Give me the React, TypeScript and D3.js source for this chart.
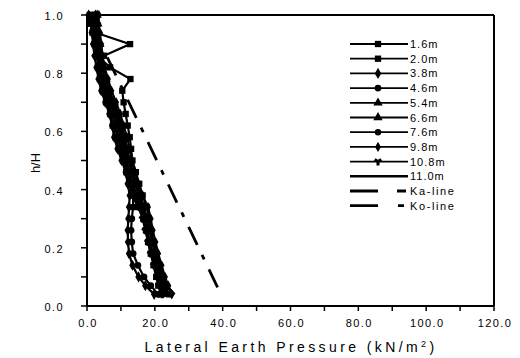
import React from "react";
import * as d3 from "d3";

const hLevels = [1.0, 0.97, 0.94, 0.9, 0.86, 0.82, 0.78, 0.74, 0.7, 0.66, 0.62, 0.58, 0.54, 0.5, 0.46, 0.42, 0.38, 0.34, 0.3, 0.26, 0.22, 0.18, 0.14, 0.1, 0.07, 0.04];

const seriesNames = ["1.6m", "2.0m", "3.8m", "4.6m", "5.4m", "6.6m", "7.6m", "9.8m", "10.8m", "11.0m"];

const s16 = [0.8, 1.5, 2.4, 12.7, 5.0, 3.2, 3.8, 4.6, 5.6, 6.8, 7.6, 8.4, 9.4, 10.6, 11.6, 12.4, 13.4, 15.0, 16.6, 17.4, 18.0, 18.8, 19.6, 20.4, 21.0, 21.8];
const s20 = [1.2, 1.0, 1.6, 2.2, 3.0, 6.8, 12.8, 10.4, 10.8, 11.4, 12.0, 12.6, 13.0, 13.4, 14.4, 15.4, 16.4, 17.6, 18.2, 18.8, 19.6, 20.4, 21.2, 22.2, 23.0, 24.2];
const s38 = [0.5, 1.2, 1.4, 1.8, 2.2, 2.8, 3.4, 4.2, 5.4, 6.6, 7.4, 8.0, 9.0, 10.2, 11.4, 12.0, 12.6, 12.4, 12.2, 12.0, 12.1, 12.4, 13.4, 15.2, 17.2, 19.8];
const s46 = [2.0, 2.2, 2.6, 3.0, 3.4, 3.8, 4.4, 5.2, 6.2, 7.4, 8.2, 9.0, 10.0, 11.0, 12.0, 12.8, 13.6, 13.6, 13.2, 13.0, 13.2, 13.6, 15.0, 16.8, 18.8, 21.0];
const s54 = [3.0, 3.2, 3.6, 3.8, 4.2, 4.8, 5.6, 6.6, 8.0, 9.2, 10.2, 11.2, 11.8, 12.6, 13.6, 14.6, 15.8, 16.8, 17.6, 18.4, 19.2, 20.0, 20.8, 21.8, 22.6, 23.6];
const s66 = [2.5, 2.8, 3.0, 3.4, 3.8, 4.4, 5.2, 6.0, 7.2, 8.4, 9.4, 10.4, 11.2, 12.2, 13.2, 14.2, 15.2, 16.2, 17.0, 17.8, 18.6, 19.4, 20.4, 21.2, 22.0, 23.0];
const s76 = [1.5, 2.0, 2.4, 2.8, 3.2, 3.8, 4.6, 5.6, 6.8, 8.0, 9.0, 10.0, 10.8, 11.6, 12.6, 13.6, 14.6, 15.8, 16.6, 17.4, 18.2, 19.0, 19.8, 20.8, 21.6, 22.4];
const s98 = [3.5, 3.4, 3.8, 4.2, 4.6, 5.2, 6.2, 7.2, 8.6, 9.8, 10.8, 11.8, 12.6, 13.2, 14.2, 15.2, 16.4, 18.0, 18.8, 19.4, 20.2, 21.0, 22.0, 23.0, 24.0, 25.0];
const s108 = [1.0, 1.6, 2.0, 2.4, 2.8, 3.4, 4.2, 5.0, 6.2, 7.4, 8.4, 9.4, 10.4, 11.2, 12.2, 13.2, 14.0, 15.4, 16.4, 17.2, 18.0, 18.8, 19.8, 20.8, 21.6, 22.2];
const s110 = [2.8, 3.0, 3.3, 3.6, 4.0, 4.6, 5.4, 6.4, 7.6, 8.8, 9.8, 10.8, 11.6, 12.4, 13.4, 14.4, 15.4, 16.6, 17.6, 18.6, 19.4, 20.4, 21.4, 22.4, 23.4, 25.8];

const seriesValues = [s16, s20, s38, s46, s54, s66, s76, s98, s108, s110];

const kaX = [0, 39.5];
const kaH = [1.0, 0.04];

const xTicks = [0, 20, 40, 60, 80, 100, 120];
const xMinor = [0, 10, 20, 30, 40, 50, 60, 70, 80, 90, 100, 110, 120];
const yTicks = [0, 0.2, 0.4, 0.6, 0.8, 1.0];
const yMinor = [0, 0.1, 0.2, 0.3, 0.4, 0.5, 0.6, 0.7, 0.8, 0.9, 1.0];

const symbolTypes = [
  d3.symbolSquare,
  d3.symbolSquare,
  d3.symbolDiamond,
  d3.symbolCircle,
  d3.symbolTriangle,
  d3.symbolTriangle,
  d3.symbolCircle,
  d3.symbolDiamond,
  d3.symbolWye,
  null,
];
const symbolSizes = [40, 40, 36, 36, 38, 38, 32, 30, 32, 0];

export default function App() {
  const W = 520, H = 358;
  const x = d3.scaleLinear().domain([0, 120]).range([87, 494]);
  const y = d3.scaleLinear().domain([0, 1]).range([306, 15]);
  const line = d3.line<[number, number]>().x((d) => x(d[0])).y((d) => y(d[1]));
  const font = "'Liberation Sans', Arial, sans-serif";

  const legX0 = 350, legX1 = 408, legMark = 378, legY0 = 44, legStep = 14.7;

  return (
    <svg width={W} height={H} style={{ position: "absolute", left: 0, top: 0, background: "#fff" }}>
      <rect x={0} y={0} width={W} height={H} fill="#fff" />
      <path
        d={line(kaX.map((v, i) => [v, kaH[i]]) as [number, number][]) || ""}
        fill="none"
        stroke="#000"
        strokeWidth={2.8}
        strokeDasharray="20 11 5 11"
      />
      {seriesValues.map((vals, si) => {
        const pts = vals.map((v, i) => [v, hLevels[i]] as [number, number]);
        const sym = symbolTypes[si];
        return (
          <g key={si}>
            <path d={line(pts) || ""} fill="none" stroke="#000" strokeWidth={si === 9 ? 2.8 : 2.2} />
            {sym &&
              pts.map((p, i) => (
                <path
                  key={i}
                  transform={`translate(${x(p[0])},${y(p[1])})`}
                  d={d3.symbol().type(sym).size(symbolSizes[si])() || ""}
                  fill="#000"
                />
              ))}
          </g>
        );
      })}
      <line x1={x(0)} x2={x(120)} y1={y(1)} y2={y(1)} stroke="#000" strokeWidth={2} />
      <line x1={x(120)} x2={x(120)} y1={y(1)} y2={y(0)} stroke="#000" strokeWidth={2} />
      <line x1={x(0)} x2={x(120)} y1={y(0)} y2={y(0)} stroke="#000" strokeWidth={2} />
      <line x1={x(0)} x2={x(0)} y1={y(1)} y2={y(0)} stroke="#000" strokeWidth={2} />
      {xMinor.map((t) => (
        <line key={"xm" + t} x1={x(t)} x2={x(t)} y1={y(0)} y2={y(0) + 5} stroke="#000" strokeWidth={1.5} />
      ))}
      {yMinor.map((t) => (
        <line key={"ym" + t} x1={x(0) - 6} x2={x(0)} y1={y(t)} y2={y(t)} stroke="#000" strokeWidth={1.5} />
      ))}
      {xTicks.map((t) => (
        <text key={"xt" + t} x={x(t) + 1} y={327} textAnchor="middle" fontFamily={font} fontSize={11} letterSpacing={1.4} fill="#000">
          {t.toFixed(1)}
        </text>
      ))}
      {yTicks.map((t) => (
        <text key={"yt" + t} x={64} y={y(t) + 5} textAnchor="end" fontFamily={font} fontSize={11} letterSpacing={1.4} fill="#000">
          {t.toFixed(1)}
        </text>
      ))}
      <text transform={`translate(40,163) rotate(-90)`} textAnchor="middle" fontFamily={font} fontSize={13} fill="#000">
        h/H
      </text>
      <text x={291} y={352} textAnchor="middle" fontFamily={font} fontSize={14} letterSpacing={3.4} fill="#000">
        Lateral Earth Pressure (kN/m<tspan dy={-5} fontSize={9}>2</tspan>
        <tspan dy={5}>)</tspan>
      </text>
      {seriesNames.map((n, i) => {
        const ly = legY0 + i * legStep;
        const sym = symbolTypes[i];
        return (
          <g key={"lg" + i}>
            <line x1={legX0} x2={legX1} y1={ly} y2={ly} stroke="#000" strokeWidth={i === 9 ? 2.6 : 1.8} />
            {sym && (
              <path transform={`translate(${legMark},${ly})`} d={d3.symbol().type(sym).size(symbolSizes[i])() || ""} fill="#000" />
            )}
            <text x={legX1 + 2} y={ly + 4} fontFamily={font} fontSize={11} letterSpacing={1} fill="#000">
              {n}
            </text>
          </g>
        );
      })}
      {["Ka-line", "Ko-line"].map((n, i) => {
        const ly = legY0 + (10 + i) * legStep;
        return (
          <g key={"lk" + i}>
            <line x1={legX0} x2={legX1 - 2} y1={ly} y2={ly} stroke="#000" strokeWidth={2.8} strokeDasharray={i === 0 ? "28 19 11" : "28 20 6"} />
            <text x={legX1 + 2} y={ly + 4} fontFamily={font} fontSize={11} letterSpacing={1.6} fill="#000">
              {n}
            </text>
          </g>
        );
      })}
    </svg>
  );
}
